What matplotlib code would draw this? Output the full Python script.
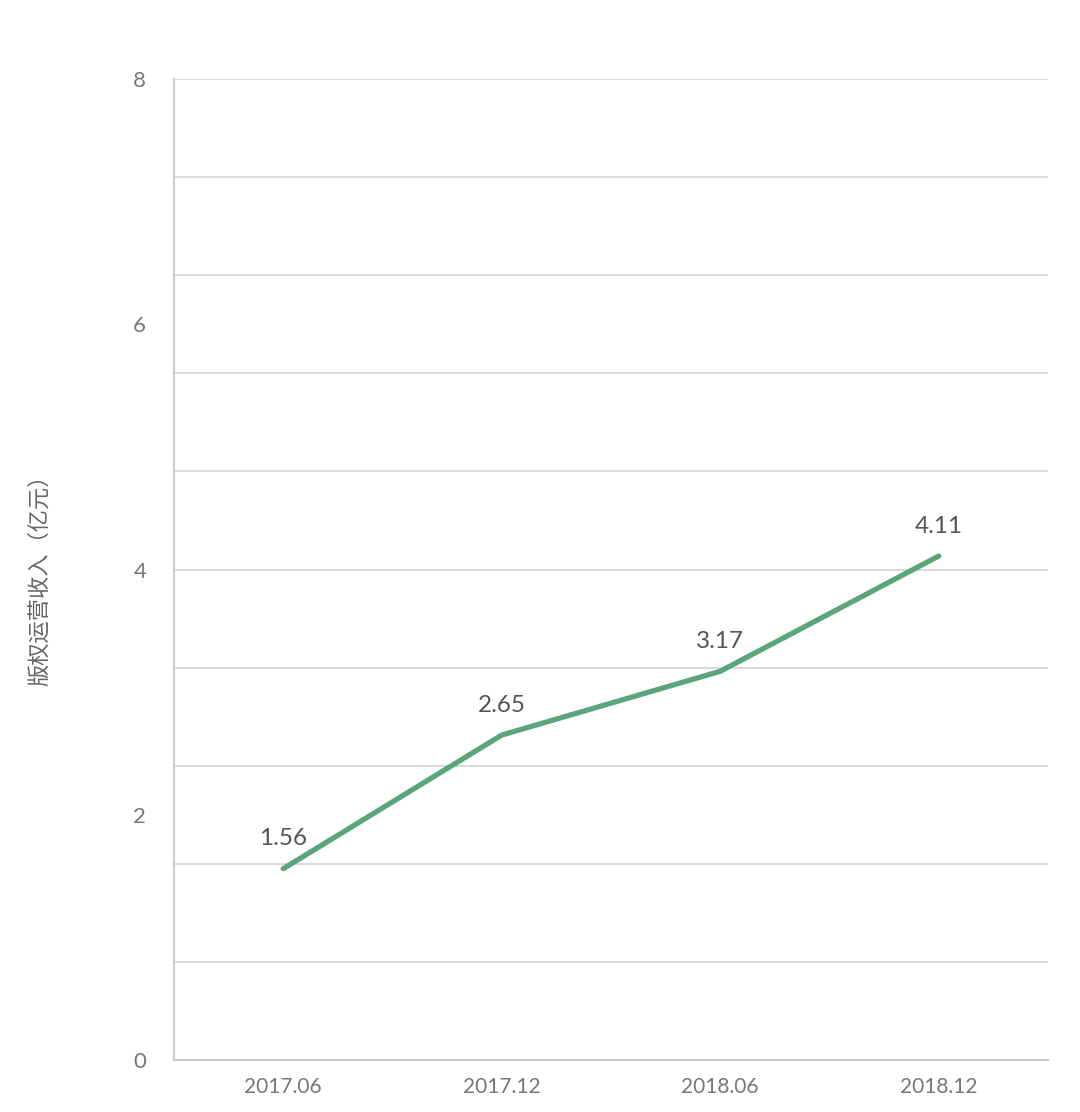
import matplotlib
matplotlib.use("Agg")
import matplotlib.pyplot as plt
import numpy as np

plt.rcParams['font.family'] = ['Lato', 'Noto Sans CJK SC', 'DejaVu Sans']

periods = ['2017.06', '2017.12', '2018.06', '2018.12']
revenue = [1.56, 2.65, 3.17, 4.11]
ylabel = '版权运营收入（亿元）'

fig = plt.figure(figsize=(10.8, 11.12), dpi=100)
ax = fig.add_axes([174 / 1080, 1 - 1060 / 1112, (1048 - 174) / 1080, (1060 - 79) / 1112])

x = np.arange(len(periods))
ax.plot(x, revenue, color='#5aa57c', linewidth=3.8, solid_capstyle='round', zorder=3)

for xi, v in zip(x, revenue):
    ax.annotate(f'{v:.2f}', (xi, v), xytext=(0, 14), textcoords='offset points',
                ha='center', va='bottom', fontsize=17.5, color='#555555')

ax.set_xlim(-0.5, 3.5)
ax.set_ylim(0, 8)
ax.set_xticks(x)
ax.set_xticklabels(periods)
ax.set_yticks([0, 2, 4, 6, 8])
ax.set_yticks(np.arange(0, 8.01, 0.8), minor=True)
ax.yaxis.remove_overlapping_locs = False
ax.grid(False)
ax.yaxis.grid(True, which='minor', color='#d3d3d3', linewidth=1.2)
ax.tick_params(axis='both', which='both', length=0, colors='#777777')
ax.tick_params(axis='y', pad=20, labelsize=16)
ax.tick_params(axis='x', pad=12, labelsize=15)

for s in ['top', 'right']:
    ax.spines[s].set_visible(False)
for s in ['left', 'bottom']:
    ax.spines[s].set_color('#cccccc')
    ax.spines[s].set_linewidth(1.5)

fig.text(40 / 1080, 1 - 575 / 1112, ylabel, rotation=90, ha='center', va='center',
         fontsize=16, color='#666666', family=['Noto Sans CJK SC', 'DejaVu Sans'])

fig.savefig('out.png', dpi=100, facecolor='white')
